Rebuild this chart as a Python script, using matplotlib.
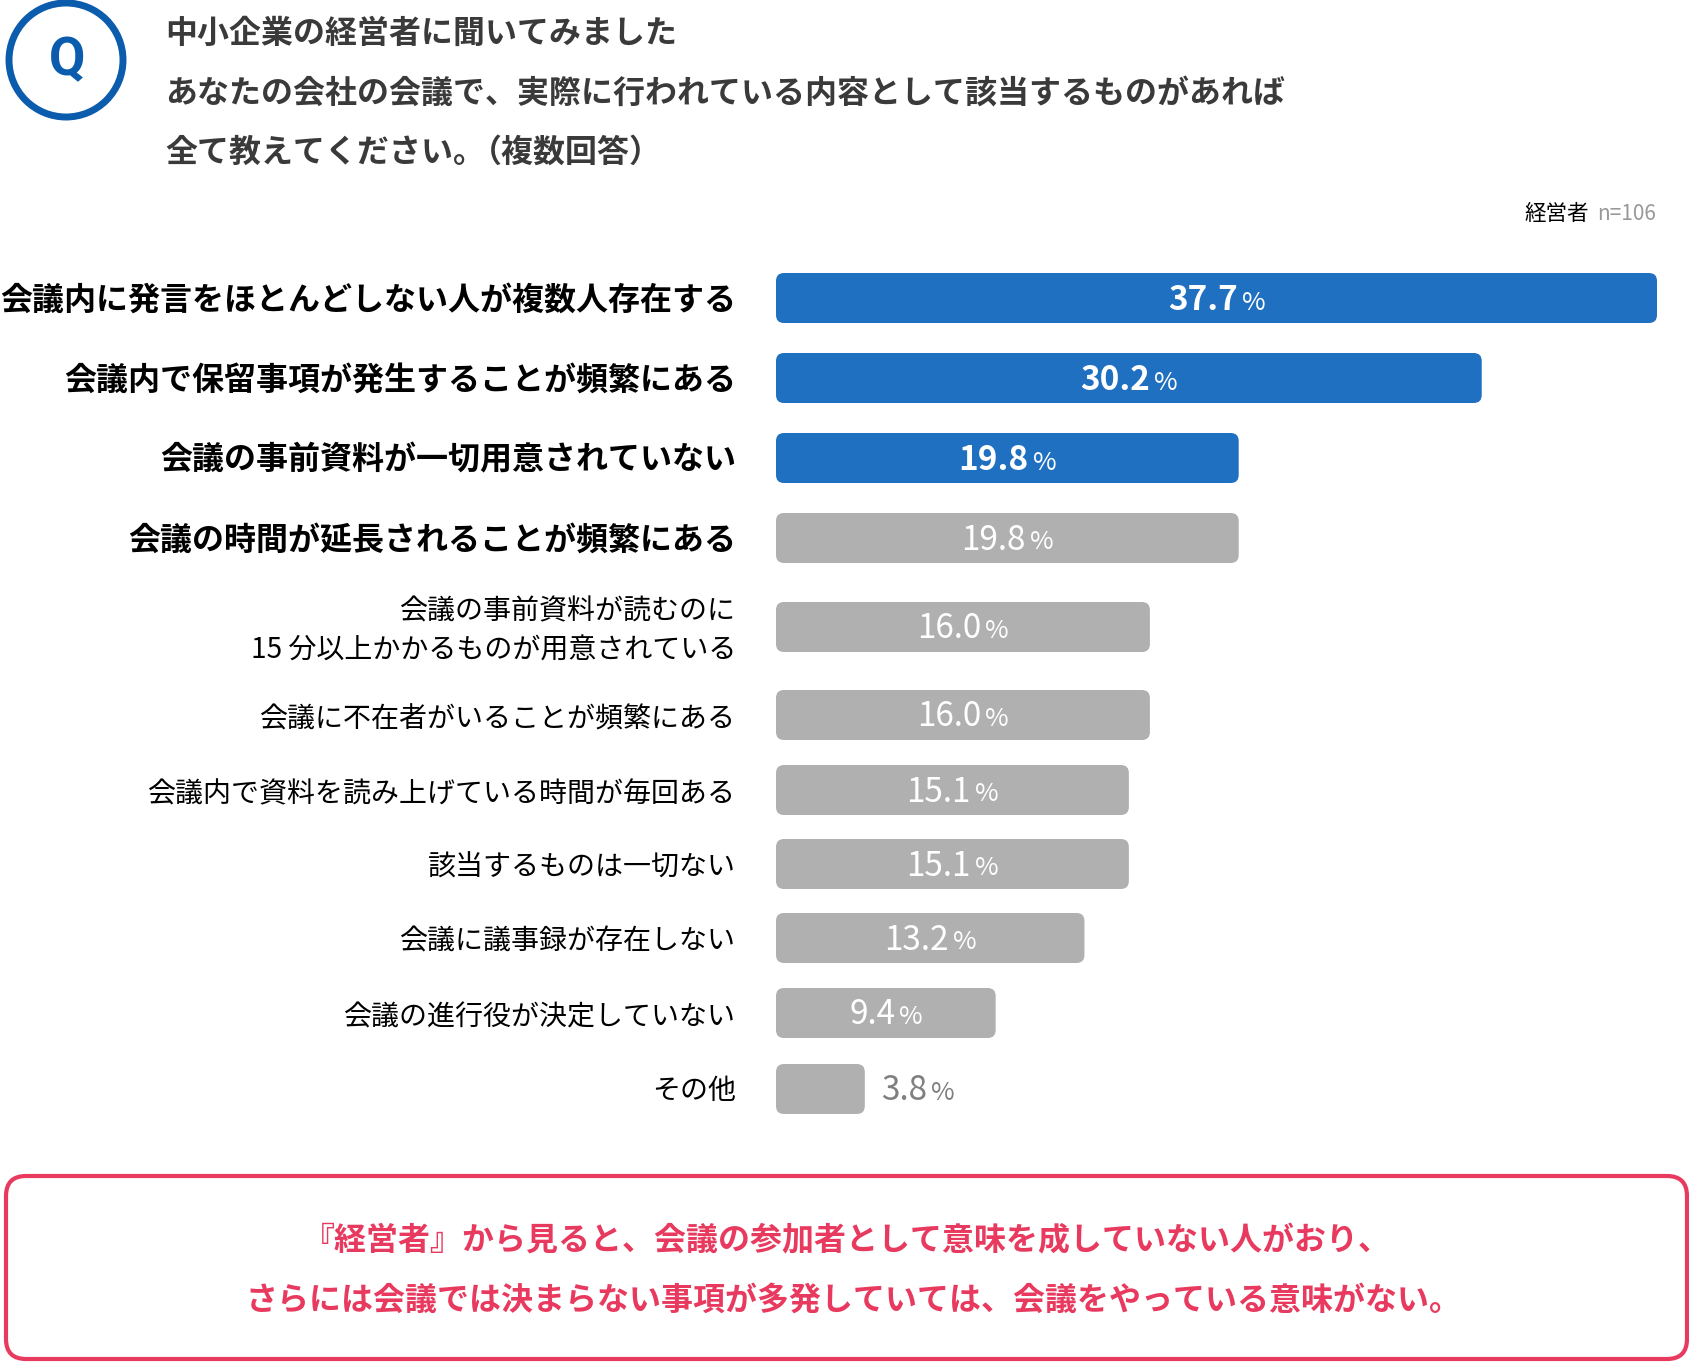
import matplotlib
matplotlib.use('Agg')
import matplotlib.pyplot as plt
from matplotlib.patches import FancyBboxPatch, Circle

plt.rcParams['font.family'] = ['Noto Sans CJK JP', 'DejaVu Sans']

# Data
labels = ['会議内に発言をほとんどしない人が複数人存在する',
          '会議内で保留事項が発生することが頻繁にある',
          '会議の事前資料が一切用意されていない',
          '会議の時間が延長されることが頻繁にある',
          '会議の事前資料が読むのに\n15 分以上かかるものが用意されている',
          '会議に不在者がいることが頻繁にある',
          '会議内で資料を読み上げている時間が毎回ある',
          '該当するものは一切ない',
          '会議に議事録が存在しない',
          '会議の進行役が決定していない',
          'その他']
values = [37.7, 30.2, 19.8, 19.8, 16.0, 16.0, 15.1, 15.1, 13.2, 9.4, 3.8]
title_lines = ['中小企業の経営者に聞いてみました',
               'あなたの会社の会議で、実際に行われている内容として該当するものがあれば',
               '全て教えてください。']
title_tail = '（複数回答）'
note_lines = ['『経営者』から見ると、会議の参加者として意味を成していない人がおり、',
              'さらには会議では決まらない事項が多発していては、会議をやっている意味がない。']

# Layout, in pixels of the output picture
W, H = 1689, 1362
bar_left, bar_right = 776, 1657
bar_y = [298, 378, 458, 538, 627, 715, 790, 864, 938, 1013, 1089]
label_shift = [2, 2, 2, 2, 4, 5, 4, 4, 4, 4, 2]
bar_h = 50
n_blue = 3
n_bold = 4

BLUE = '#2070c2'
GRAY = '#b0b0b0'
RED = '#e83a5f'

fig = plt.figure(figsize=(W / 100, H / 100), dpi=100, facecolor='white')

# page layer for the text and the frames
page = fig.add_axes([0, 0, 1, 1])
page.set_xlim(0, W)
page.set_ylim(H, 0)
page.axis('off')

# bar layer: x in percent, y in page pixels
ax = fig.add_axes([bar_left / W, 0, (bar_right - bar_left) / W, 1])
ax.set_xlim(0, max(values))
ax.set_ylim(H, 0)
ax.axis('off')
ax.patch.set_alpha(0)

px_per_pct = (bar_right - bar_left) / max(values)
radius = 8

bars = ax.barh(bar_y, values, height=bar_h)
renderer = fig.canvas.get_renderer()

for i, (b, v, y) in enumerate(zip(bars, values, bar_y)):
    color = BLUE if i < n_blue else GRAY
    ax.add_patch(FancyBboxPatch((b.get_x(), b.get_y()), b.get_width(), b.get_height(),
                                boxstyle='round,pad=0,rounding_size=%f' % (radius / px_per_pct),
                                mutation_aspect=px_per_pct,
                                fc=color, ec='none', clip_on=False))
    b.remove()

    # category label
    page.text(736, y + label_shift[i], labels[i], ha='right', va='center', fontsize=23.05 if i < n_bold else 20.15,
              fontweight='bold' if i < n_bold else 'normal', color='black', linespacing=1.38)

    # value + smaller percent sign, measured so that the pair can be centred
    weight = 'bold' if i < n_blue else 'normal'
    tcolor = 'white' if i < len(values) - 1 else '#808080'
    yoff = 3 if i < n_blue else 2
    num = ax.text(0, y + yoff, '%.1f' % v, ha='left', va='center', fontsize=24, fontweight=weight, color=tcolor)
    pct = ax.text(0, y + yoff + 2, '%', ha='left', va='center', fontsize=18.5, color=tcolor)
    w_num = num.get_window_extent(renderer).width
    w_pct = pct.get_window_extent(renderer).width
    gap = 4
    if i < len(values) - 1:
        start = v * px_per_pct / 2 - (w_num + gap + w_pct) / 2
    else:
        start = v * px_per_pct + 16
    num.set_x(start / px_per_pct)
    pct.set_x((start + w_num + gap) / px_per_pct)

# Q mark
page.add_patch(Circle((66, 60), 57, fc='none', ec='#0b5cad', lw=5))
page.text(67, 61, 'Q', ha='center', va='center', fontsize=38, fontweight='bold', color='#0b5cad',
          family='Roboto')

# question text
for y, line in zip([34, 94, 153], title_lines):
    page.text(165.5, y, line, ha='left', va='center', fontsize=23, fontweight='bold', color='#3a3a3a')
# the closing bracket sits tight against the full stop in the original
page.text(470, 153, title_tail, ha='left', va='center', fontsize=23, fontweight='bold', color='#3a3a3a')

# respondent note
page.text(1589, 214, '経営者', ha='right', va='center', fontsize=15.5, color='black')
page.text(1656, 214, 'n=106', ha='right', va='center', fontsize=15, color='#999999')

# conclusion box
page.add_patch(FancyBboxPatch((6, 1176), 1681, 183, boxstyle='round,pad=0,rounding_size=20',
                              fc='white', ec=RED, lw=3))
for y, x, line in zip([1241, 1301], [847, 853], note_lines):
    page.text(x, y, line, ha='center', va='center', fontsize=23, fontweight='bold', color=RED)

fig.savefig('out.png', dpi=100)
